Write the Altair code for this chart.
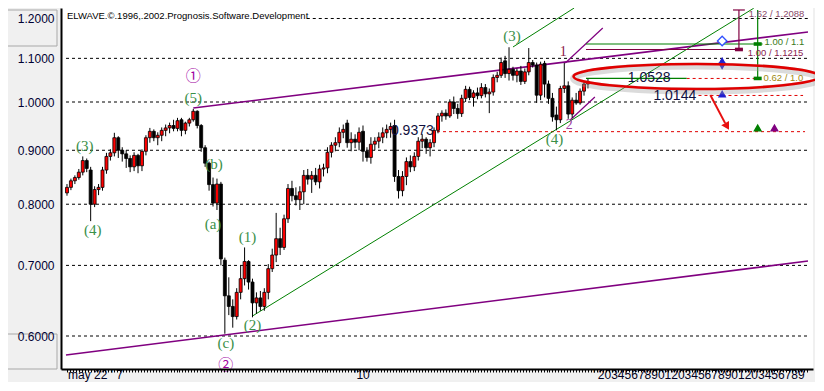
import altair as alt
import pandas as pd

# ---------------- candle data (index 0..132) ----------------
OPEN = [.820, .830, .842, .848, .858, .880, .862, .800, .826, .830,
        .862, .888, .895, .925, .900, .893, .884, .868, .890, .870,
        .898, .925, .938, .925, .930, .940, .945, .950, .944, .962,
        .940, .955, .962, .980, .950, .905, .875, .835, .802, .836,
        .708, .655, .640, .626, .660, .680, .706, .675, .645, .652,
        .640, .660, .695, .716, .742, .728, .775, .828, .815, .808,
        .822, .852, .845, .852, .840, .864, .866, .896, .910, .915,
        .936, .955, .915, .922, .916, .938, .898, .886, .912, .918,
        .926, .935, .942, .950, .850, .824, .850, .878, .868, .888,
        .918, .922, .905, .915, .940, .970, .976, .970, 1.000, .986,
        .975, 1.008, 1.028, 1.010, 1.020, 1.014, 1.032, 1.018, 1.022, 1.055,
        1.060, 1.094, 1.064, 1.074, 1.060, 1.070, 1.046, 1.068, 1.090, 1.084,
        1.015, 1.088, 1.040, 1.008, .972, .962, 1.030, 1.036, .974, 1.004,
        .998, 1.024, 1.040]
HIGH = [.836, .846, .852, .864, .888, .884, .868, .832, .836, .868,
        .895, .902, .935, .928, .906, .900, .890, .896, .893, .902,
        .930, .945, .942, .936, .946, .952, .956, .962, .966, .966,
        .958, .966, .985, .982, .953, .910, .878, .848, .846, .840,
        .712, .682, .650, .666, .700, .728, .708, .680, .660, .662,
        .666, .702, .726, .785, .760, .782, .836, .842, .830, .832,
        .862, .864, .860, .866, .872, .874, .906, .916, .926, .946,
        .952, .962, .936, .932, .946, .950, .906, .926, .926, .936,
        .946, .952, .956, .962, .862, .860, .886, .890, .896, .926,
        .932, .926, .922, .946, .976, .982, .984, 1.006, 1.012, .996,
        1.016, 1.036, 1.034, 1.026, 1.032, 1.042, 1.040, 1.030, 1.062, 1.068,
        1.102, 1.106, 1.127, 1.080, 1.076, 1.082, 1.076, 1.125, 1.096, 1.090,
        1.092, 1.094, 1.048, 1.020, .990, 1.036, 1.089, 1.046, 1.010, 1.020,
        1.030, 1.046, 1.052]
LOW = [.815, .825, .836, .844, .852, .858, .771, .795, .816, .824,
       .855, .880, .888, .885, .878, .866, .858, .860, .856, .860,
       .890, .915, .918, .910, .918, .928, .934, .938, .938, .928,
       .932, .948, .958, .944, .897, .868, .824, .796, .790, .700,
       .603, .628, .611, .622, .650, .670, .664, .625, .630, .634,
       .634, .650, .690, .705, .716, .724, .768, .805, .798, .790,
       .800, .835, .820, .834, .828, .850, .856, .886, .898, .906,
       .924, .905, .898, .904, .900, .878, .878, .874, .900, .904,
       .914, .924, .925, .840, .810, .814, .834, .858, .860, .880,
       .904, .893, .888, .906, .934, .958, .962, .966, .974, .964,
       .968, 1.000, 1.004, .990, 1.006, 1.008, 1.010, .976, 1.014, 1.044,
       1.054, 1.054, 1.048, 1.048, 1.044, 1.038, 1.040, 1.060, 1.078, .998,
       1.004, 1.010, .996, .958, .940, .955, 1.020, .964, .966, .994,
       .994, 1.014, 1.030]
CLOSE = [.830, .842, .848, .858, .880, .865, .800, .826, .830, .862,
         .888, .895, .925, .900, .893, .884, .868, .890, .870, .898,
         .925, .938, .925, .930, .940, .945, .950, .944, .960, .940,
         .955, .962, .980, .950, .905, .875, .835, .802, .836, .710,
         .655, .640, .626, .660, .680, .706, .675, .645, .652, .640,
         .660, .695, .716, .742, .728, .775, .828, .815, .808, .822,
         .852, .845, .852, .840, .864, .866, .896, .910, .915, .936,
         .942, .915, .922, .916, .936, .898, .886, .912, .918, .926,
         .935, .942, .948, .850, .824, .850, .878, .868, .888, .918,
         .922, .905, .915, .940, .970, .976, .970, 1.000, .986, .975,
         1.008, 1.028, 1.010, 1.020, 1.014, 1.032, 1.018, 1.022, 1.055, 1.060,
         1.090, 1.064, 1.074, 1.060, 1.070, 1.046, 1.068, 1.090, 1.084, 1.015,
         1.086, 1.040, 1.008, .968, .962, 1.030, 1.036, .974, 1.004, .998,
         1.024, 1.040, 1.046]

# ---------------- axes / levels ----------------
Y_TICKS = [0.6, 0.7, 0.8, 0.9, 1.0, 1.1, 1.2]
GRID_START = [-0.25, -0.25, -0.25, -0.25, -0.25, -0.25, 60.75]
X_DOMAIN = [-0.25, 187.75]
Y_DOMAIN = [0.5583, 1.2278]

# trend lines (index, price) -> (index, price)
LINE_I0 = [32, -0.25, 126.25, 127.5, 47, 113]
LINE_P0 = [0.987, 0.5756, 1.0889, 0.9615, 0.6268, 1.1276]
LINE_I1 = [187.75, 187.75, 135.75, 133.75, 174, 128.5]
LINE_P1 = [1.1652, 0.7067, 1.1754, 1.011, 1.2272, 1.2278]
LINE_COL = ["#800080", "#800080", "#800080", "#800080", "#008000", "#008000"]
LINE_W = [1.6, 1.6, 1.2, 1.2, 1.0, 1.0]

# target construction lines
SEG_I0 = [131.5, 131.5, 131.5, 168.75, 175, 170.25]
SEG_P0 = [1.0528, 1.135, 1.1215, 1.2225, 1.0528, 1.1215]
SEG_I1 = [157, 176.25, 171.25, 171.75, 175, 170.25]
SEG_P1 = [1.0528, 1.135, 1.1215, 1.2225, 1.2225, 1.2225]
SEG_COL = ["#008000", "#008000", "#800040", "#800040", "#008000", "#800040"]

DASH_P = [0.9373, 1.0144, 1.0528]
DASH_I0 = [93.75, 160, 157]
DASH_I1 = [187, 186.5, 175]

SQ_I = [175, 175, 170.25]
SQ_P = [1.135, 1.0528, 1.1215]
SQ_COL = ["#008000", "#008000", "#800040"]

# wave labels
WAVE_T = ["(3)", "(4)", "(5)", "(b)", "(a)", "(1)", "(c)", "(2)", "(3)", "(4)"]
WAVE_I = [4.5, 6.5, 32, 37.25, 37, 45.75, 40.25, 47, 112.75, 123.5]
WAVE_P = [0.9084, 0.7562, 1.0088, 0.8734, 0.7662, 0.7447, 0.5909, 0.6145, 1.155, 0.9224]

CIRC_T = ["\u2460", "\u2461"]
CIRC_I = [32, 40.25]
CIRC_P = [1.0584, 0.5635]

SUB_T = ["1", "2"]
SUB_I = [125.75, 127.25]
SUB_P = [1.1153, 0.951]
SUB_COL = ["#8b1a4a", "#a040a0"]

VAL_T = ["0.9373", "1.0528", "1.0144"]
VAL_I = [87.5, 147.5, 154]
VAL_P = [0.9386, 1.0538, 1.0132]

RAT_T = ["1.00 / 1.1", "1.00 / 1.1215", "0.62 / 1.0", "1.62 / 1.2088"]
RAT_I = [176.75, 172.5, 176.5, 172.75]
RAT_P = [1.1412, 1.1129, 1.0528, 1.213]
RAT_COL = ["#3a7a20", "#8a2050", "#a08a10", "#8a4a6a"]

XLAB_T = ["may 22 ' 7", "'10", "'", "2034567890120345678901203456789"]
XLAB_I = [0.25, 72.75, 133.25, 134.5]
X_MINOR = [round(k * 0.75, 2) for k in range(251)]

# ---------------- frames ----------------
candles = pd.DataFrame({"i": list(range(len(OPEN))), "o": OPEN, "h": HIGH, "l": LOW, "c": CLOSE})
grid = pd.DataFrame({"p": Y_TICKS, "i0": GRID_START, "i1": [187.75] * len(Y_TICKS)})
lines = pd.DataFrame({"i0": LINE_I0, "p0": LINE_P0, "i1": LINE_I1, "p1": LINE_P1, "col": LINE_COL, "w": LINE_W})
segs = pd.DataFrame({"i0": SEG_I0, "p0": SEG_P0, "i1": SEG_I1, "p1": SEG_P1, "col": SEG_COL})
dashes = pd.DataFrame({"p": DASH_P, "i0": DASH_I0, "i1": DASH_I1})
squares = pd.DataFrame({"i": SQ_I, "p": SQ_P, "col": SQ_COL})

XS = alt.Scale(domain=X_DOMAIN, nice=False, zero=False)
YS = alt.Scale(type="log", domain=Y_DOMAIN, nice=False)

x_axis = alt.Axis(values=X_MINOR, labels=False, ticks=True, tickSize=3, tickColor="black",
                  tickWidth=1, domainColor="black", domainWidth=2, grid=False, title=None, zindex=1)
y_axis = alt.Axis(values=Y_TICKS, format=".4f", labelFont="Liberation Sans", labelFontSize=12,
                  labelColor="#000033", ticks=False, labelPadding=7, domainColor="black",
                  domainWidth=2, grid=False, title=None, zindex=1)


def X(f):
    return alt.X(f, type="quantitative", scale=XS, axis=x_axis)


def Y(f):
    return alt.Y(f, type="quantitative", scale=YS, axis=y_axis)


# left panel boxes (pure decoration, pixel positions)
boxes = pd.DataFrame({"x0": [-58, -58], "x1": [-4, -4], "y0": [2, 326], "y1": [38, 361]})
box_layer = alt.Chart(boxes).mark_rect(fill="#f0f0f0", stroke="#a8a8a8", strokeWidth=1).encode(
    x=alt.X("x0:Q", scale=None), x2="x1:Q", y=alt.Y("y0:Q", scale=None), y2="y1:Q")

grid_layer = alt.Chart(grid).mark_rule(color="black", strokeDash=[3, 3], strokeWidth=1).encode(
    x=X("i0"), x2="i1:Q", y=Y("p"))

dash_layer = alt.Chart(dashes).mark_rule(color="#e00000", strokeDash=[3, 3], strokeWidth=1).encode(
    x=X("i0"), x2="i1:Q", y=Y("p"))

wick = alt.Chart(candles).mark_rule(color="black", strokeWidth=1).encode(
    x=X("i"), y=Y("l"), y2="h:Q")

body = alt.Chart(candles).mark_bar(size=3, stroke="black", strokeWidth=0.8).encode(
    x=X("i"), y=Y("o"), y2="c:Q",
    color=alt.condition("datum.c >= datum.o", alt.value("#ff0000"), alt.value("black")))

line_layer = alt.Chart(lines).mark_rule().encode(
    x=X("i0"), y=Y("p0"), x2="i1:Q", y2="p1:Q",
    color=alt.Color("col:N", scale=None), strokeWidth=alt.StrokeWidth("w:Q", scale=None))

seg_layer = alt.Chart(segs).mark_rule(strokeWidth=1.2).encode(
    x=X("i0"), y=Y("p0"), x2="i1:Q", y2="p1:Q", color=alt.Color("col:N", scale=None))

sq_layer = alt.Chart(squares).mark_point(
    shape="M-1,-0.45L1,-0.45L1,0.45L-1,0.45Z", size=64, filled=True, opacity=1).encode(
    x=X("i"), y=Y("p"), color=alt.Color("col:N", scale=None))

# markers
mk = pd.DataFrame({
    "i": [166, 166, 166, 166, 175, 179.25],
    "p": [1.1425, 1.0937, 1.0818, 1.0176, 0.9448, 0.9448],
    "shape": ["diamond", "triangle-up", "triangle-down", "triangle-up", "triangle-up", "triangle-up"],
    "col": ["#3050ff", "#2020d0", "#2020d0", "#2020d0", "#008000", "#800080"],
    "fill": ["white", "#2020d0", "#2020d0", "#2020d0", "#008000", "#800080"],
    "s": [90, 35, 35, 40, 45, 45]})
mk_layer = alt.Chart(mk).mark_point(opacity=1, strokeWidth=1.3).encode(
    x=X("i"), y=Y("p"), shape=alt.Shape("shape:N", scale=None),
    stroke=alt.Stroke("col:N", scale=None), fill=alt.Fill("fill:N", scale=None),
    size=alt.Size("s:Q", scale=None))

# red arrow
arrow = pd.DataFrame({"i0": [163], "p0": [1.0154], "i1": [166.75], "p1": [0.955]})
arrow_line = alt.Chart(arrow).mark_rule(color="#e81010", strokeWidth=2).encode(
    x=X("i0"), y=Y("p0"), x2="i1:Q", y2="p1:Q")
arrow_head = alt.Chart(pd.DataFrame({"i": [167.25], "p": [0.948]})).mark_point(
    shape="triangle-down", angle=330, size=80, filled=True, color="#e81010", opacity=1).encode(
    x=X("i"), y=Y("p"))

# highlight ellipse
ELL = ("M1,0 C1,0.0561 0.5523,0.1016 0,0.1016 C-0.5523,0.1016 -1,0.0561 -1,0 "
       "C-1,-0.0561 -0.5523,-0.1016 0,-0.1016 C0.5523,-0.1016 1,-0.0561 1,0 Z")
ell_df = pd.DataFrame({"i": [159.5], "p": [1.0573]})
ell_shadow = alt.Chart(ell_df).mark_point(shape=ELL, size=60516, filled=False, color="#9a9a9a",
                                          strokeWidth=7, opacity=0.35, yOffset=2).encode(x=X("i"), y=Y("p"))
ell = alt.Chart(ell_df).mark_point(shape=ELL, size=60516, filled=False, color="#e00000",
                                   strokeWidth=2.6, opacity=1).encode(x=X("i"), y=Y("p"))

# texts
wave_df = pd.DataFrame({"i": WAVE_I, "p": WAVE_P, "t": WAVE_T})
wave_layer = alt.Chart(wave_df).mark_text(font="Liberation Serif", fontSize=15, color="#3a9048").encode(
    x=X("i"), y=Y("p"), text="t:N")

circ_df = pd.DataFrame({"i": CIRC_I, "p": CIRC_P, "t": CIRC_T})
circ_layer = alt.Chart(circ_df).mark_text(font="Noto Sans CJK JP", fontSize=15, color="#a000a0").encode(
    x=X("i"), y=Y("p"), text="t:N")

sub_df = pd.DataFrame({"i": SUB_I, "p": SUB_P, "t": SUB_T, "col": SUB_COL})
sub_layer = alt.Chart(sub_df).mark_text(font="Liberation Serif", fontSize=14).encode(
    x=X("i"), y=Y("p"), text="t:N", color=alt.Color("col:N", scale=None))

val_df = pd.DataFrame({"i": VAL_I, "p": VAL_P, "t": VAL_T})
val_layer = alt.Chart(val_df).mark_text(font="Liberation Sans", fontSize=14, color="#101040").encode(
    x=X("i"), y=Y("p"), text="t:N")

rat_df = pd.DataFrame({"i": RAT_I, "p": RAT_P, "t": RAT_T, "col": RAT_COL})
rat_layer = alt.Chart(rat_df).mark_text(font="Liberation Sans", fontSize=9.5, align="left").encode(
    x=X("i"), y=Y("p"), text="t:N", color=alt.Color("col:N", scale=None))

copy_layer = alt.Chart(pd.DataFrame({"i": [0], "p": [1.2066],
                                     "t": ["ELWAVE.\u00a9.1996,.2002.Prognosis.Software.Development"]})).mark_text(
    font="Liberation Sans", fontSize=9.5, align="left", color="black").encode(x=X("i"), y=Y("p"), text="t:N")

xlab_df = pd.DataFrame({"i": XLAB_I, "t": XLAB_T})
xlab_layer = alt.Chart(xlab_df).mark_text(font="Liberation Sans", fontSize=12, align="left",
                                          baseline="alphabetic", color="#000020").encode(
    x=X("i"), y=alt.value(371), text="t:N")

chart = alt.layer(
    grid_layer, box_layer, dash_layer, line_layer, seg_layer, wick, body,
    sq_layer, mk_layer, arrow_line, arrow_head, ell_shadow, ell,
    wave_layer, circ_layer, sub_layer, val_layer, rat_layer, copy_layer, xlab_layer
).properties(
    width=752, height=361,
    padding={"left": 53, "top": 0, "right": 2, "bottom": 13},
    autosize=alt.AutoSizeParams(type="none"),
    background="#f0f0f0",
).configure_view(fill="white", strokeWidth=0)

chart.save("out.html", embed_options={"renderer": "svg", "actions": False})
